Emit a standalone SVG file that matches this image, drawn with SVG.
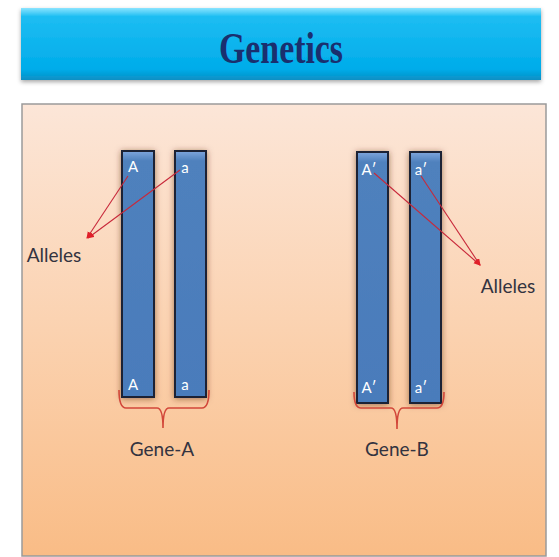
<svg xmlns="http://www.w3.org/2000/svg" width="559" height="557" viewBox="0 0 559 557">
<defs>
<linearGradient id="bannerGrad" x1="0" y1="0" x2="0" y2="1">
<stop offset="0" stop-color="#8be4ff"/>
<stop offset="0.12" stop-color="#1dbdf2"/>
<stop offset="0.85" stop-color="#00acea"/>
<stop offset="1" stop-color="#0a8fc4"/>
</linearGradient>
<linearGradient id="panelGrad" x1="0" y1="0" x2="0" y2="1">
<stop offset="0" stop-color="#fce6d8"/>
<stop offset="0.5" stop-color="#fbd2b0"/>
<stop offset="1" stop-color="#f9bc86"/>
</linearGradient>
<linearGradient id="chromGrad" x1="0" y1="0" x2="0" y2="1">
<stop offset="0" stop-color="#7fa6dd"/>
<stop offset="0.04" stop-color="#4f81bd"/>
<stop offset="1" stop-color="#4a7bbb"/>
</linearGradient>
<filter id="glow" x="-50%" y="-10%" width="200%" height="120%">
<feDropShadow dx="0" dy="1" stdDeviation="3" flood-color="#5a2a10" flood-opacity="0.55"/>
</filter>
<filter id="bshadow" x="-5%" y="-10%" width="110%" height="130%">
<feDropShadow dx="0" dy="2" stdDeviation="2" flood-color="#000" flood-opacity="0.35"/>
</filter>
<marker id="arrow" markerWidth="8" markerHeight="8" refX="6" refY="3" orient="auto" markerUnits="userSpaceOnUse">
<path d="M0,0 L7,3 L0,6 Z" fill="#e0202a"/>
</marker>
</defs>
<style>
.chrom{fill:url(#chromGrad);stroke:#1b2235;stroke-width:2;filter:url(#glow)}
.lbl{font-family:Lato,"Open Sans",sans-serif;font-size:15px;fill:#ffffff;text-anchor:middle}
.cap{font-family:Lato,"Open Sans",sans-serif;font-size:19px;fill:#333340;text-anchor:middle}
.brace{fill:none;stroke:#d2473a;stroke-width:1.6}
.arr{stroke:#c8283a;stroke-width:1.1;fill:none;marker-end:url(#arrow)}
</style>
<rect width="559" height="557" fill="#ffffff"/>
<g id="banner">
<rect x="21" y="8" width="520" height="72" fill="url(#bannerGrad)" filter="url(#bshadow)"/>
<text x="281" y="63" font-family="'Liberation Serif',serif" font-weight="bold" font-size="44" fill="#1a2f6e" text-anchor="middle" textLength="124" lengthAdjust="spacingAndGlyphs">Genetics</text>
</g>
<g id="panel">
<rect x="22" y="104" width="524" height="452" fill="url(#panelGrad)" stroke="#9a9a9a" stroke-width="1.5"/>
</g>
<g id="chrom-A">
<rect class="chrom" x="122" y="151" width="32" height="246"/>
<text class="lbl" x="133" y="172">A</text>
<text class="lbl" x="133" y="390">A</text>
</g>
<g id="chrom-a">
<rect class="chrom" x="175" y="151" width="31" height="246"/>
<text class="lbl" x="185" y="173">a</text>
<text class="lbl" x="185" y="390">a</text>
</g>
<g id="chrom-A2">
<rect class="chrom" x="357" y="152" width="31" height="251"/>
<text class="lbl" x="369" y="175">A′</text>
<text class="lbl" x="369" y="393">A′</text>
</g>
<g id="chrom-a2">
<rect class="chrom" x="410" y="152" width="31" height="251" stroke="#0d0d12" stroke-width="2.5"/>
<text class="lbl" x="421" y="175">a′</text>
<text class="lbl" x="421" y="393">a′</text>
</g>
<g id="gene-A">
<text class="cap" x="162" y="456">Gene-A</text>
</g>
<g id="gene-B">
<text class="cap" x="397" y="456">Gene-B</text>
</g>
<g id="alleles-left">
<text class="cap" x="54" y="262">Alleles</text>
</g>
<g id="alleles-right">
<text class="cap" x="508" y="293">Alleles</text>
</g>
<g id="connectors">
<path class="brace" d="M119,390 Q119,408 126,408 L157,408 Q163,408 163,428 Q163,408 169,408 L202,408 Q209,408 209,390"/>
<path class="brace" d="M354,392 Q354,408 361,408 L391,408 Q397,408 397,429 Q397,408 403,408 L437,408 Q444,408 444,392"/>
<line class="arr" x1="128" y1="176" x2="87" y2="238"/>
<line class="arr" x1="180" y1="170" x2="88" y2="238"/>
<line class="arr" x1="374" y1="173" x2="480" y2="265"/>
<line class="arr" x1="421" y1="176" x2="480" y2="265"/>
</g>
</svg>
